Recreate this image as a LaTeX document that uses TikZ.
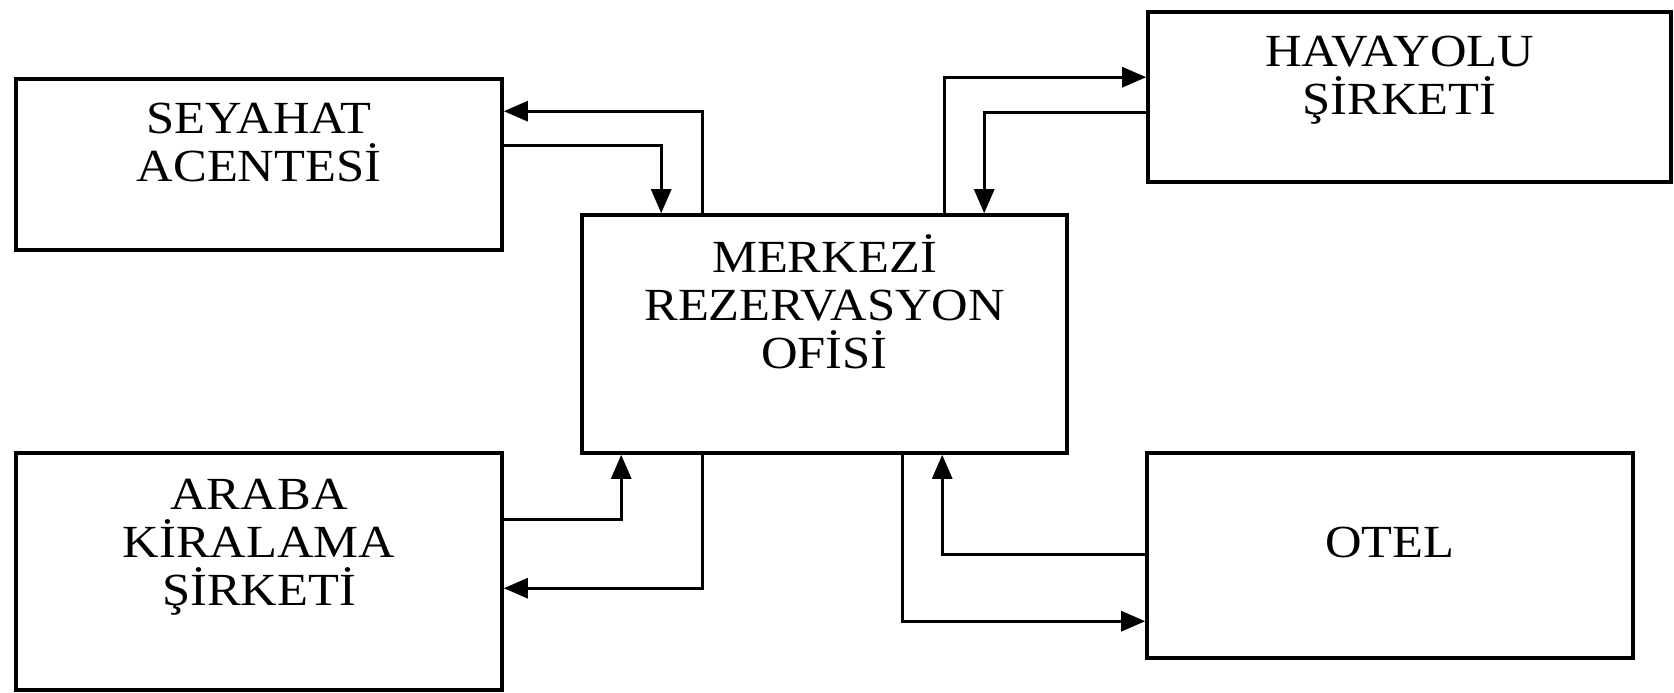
\documentclass[tikz,border=0pt]{standalone}
\usepackage{fontspec}
\setmainfont{Liberation Serif}
\newfontfamily\boxfont[FakeStretch=1.1]{Liberation Serif}
\usetikzlibrary{arrows.meta, positioning}

\begin{document}
\begin{tikzpicture}[
    x=0.5pt, y=-0.5pt,
    unit_style/.style={draw, line width=1.8pt, inner sep=0pt},
    text_style/.style={font=\boxfont\fontsize{23}{24}\selectfont,
      align=center, anchor=base, inner sep=0pt},
    flow_style/.style={line width=1.4pt,
      -{Triangle[length=12pt,width=10pt]}}
]
    \useasboundingbox (0,0) rectangle (1674,692);

    % --- Kutular ---
    \node[unit_style, minimum width=243pt, minimum height=85.5pt]
        (sey) at (259,164.5) {};
    \node[unit_style, minimum width=261.5pt, minimum height=85pt]
        (hav) at (1409.5,97) {};
    \node[unit_style, minimum width=242.5pt, minimum height=119pt]
        (mrk) at (824.5,334) {};
    \node[unit_style, minimum width=243pt, minimum height=118.5pt]
        (arb) at (259,571.5) {};
    \node[unit_style, minimum width=243pt, minimum height=102.5pt]
        (otl) at (1390,555.5) {};

    % --- Yazilar (base = son satir) ---
    \node[text_style] (sey-t) at ([yshift=-52pt]sey.north)
        {SEYAHAT\\ACENTESİ};
    \node[text_style] (hav-t) at ([xshift=-5pt,yshift=-52pt]hav.north)
        {HAVAYOLU\\ŞİRKETİ};
    \node[text_style] (mrk-t) at ([yshift=-77.5pt]mrk.north)
        {MERKEZİ\\REZERVASYON\\OFİSİ};
    \node[text_style] (arb-t) at ([yshift=-77pt]arb.north)
        {ARABA\\KİRALAMA\\ŞİRKETİ};
    \node[text_style] (otl-t) at ([yshift=-53pt]otl.north) {OTEL};

    % --- Oklar: seyahat acentesi ---
    \draw[flow_style] ([xshift=61pt]mrk.north west)
        |- ([yshift=-17pt]sey.north east);
    \draw[flow_style] ([yshift=-34pt]sey.north east)
        -| ([xshift=40.5pt]mrk.north west);

    % --- Oklar: havayolu ---
    \draw[flow_style] ([xshift=182pt]mrk.north west)
        |- ([yshift=-33.5pt]hav.north west);
    \draw[flow_style] ([yshift=-51pt]hav.north west)
        -| ([xshift=202pt]mrk.north west);

    % --- Oklar: araba kiralama ---
    \draw[flow_style] ([yshift=-34pt]arb.north east)
        -| ([xshift=20.5pt]mrk.south west);
    \draw[flow_style] ([xshift=61pt]mrk.south west)
        |- ([yshift=-68.5pt]arb.north east);

    % --- Oklar: otel ---
    \draw[flow_style] ([yshift=-51.5pt]otl.north west)
        -| ([xshift=181pt]mrk.south west);
    \draw[flow_style] ([xshift=161pt]mrk.south west)
        |- ([yshift=-85pt]otl.north west);
\end{tikzpicture}
\end{document}
